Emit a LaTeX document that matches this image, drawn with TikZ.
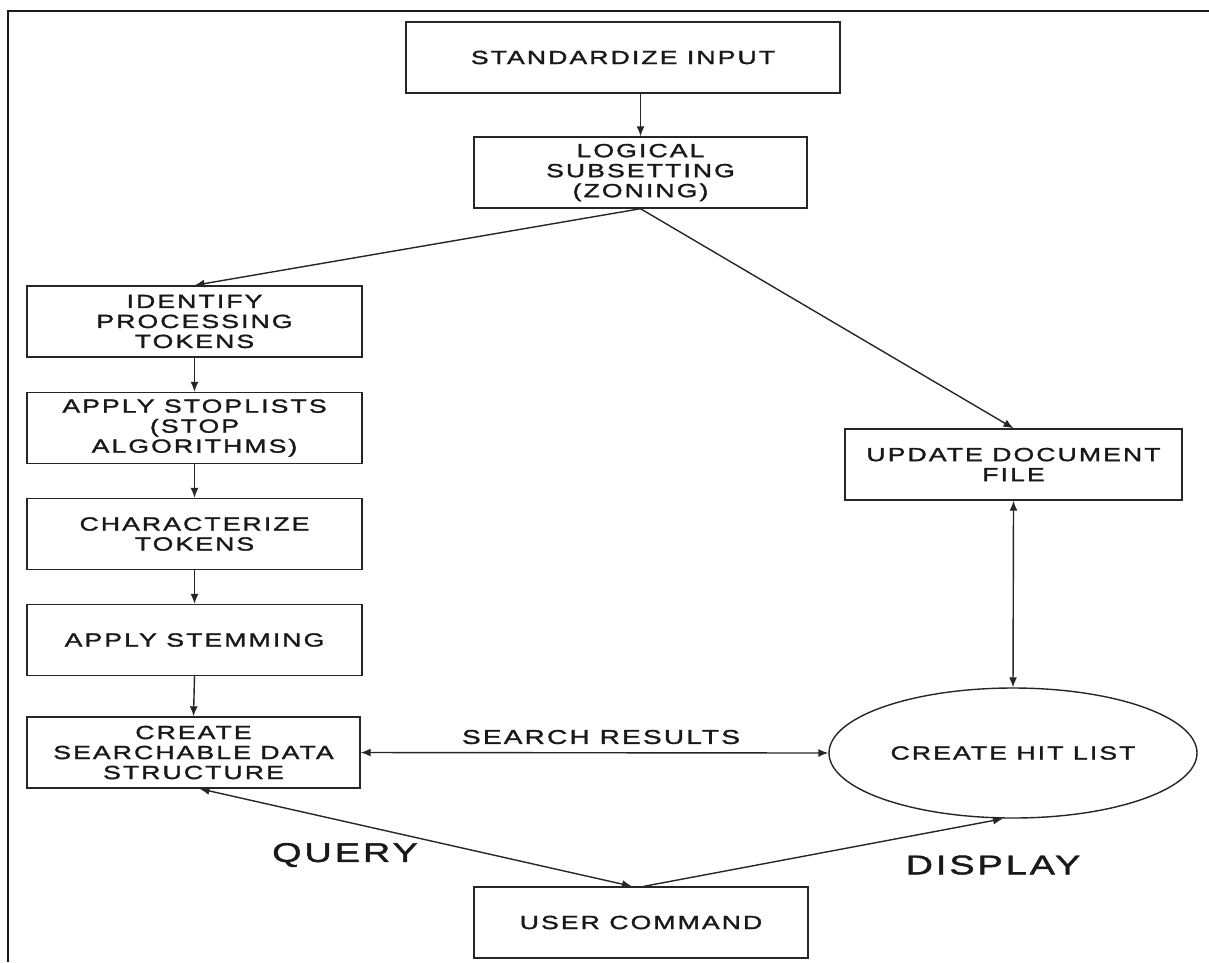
\documentclass[tikz,border=0pt]{standalone}
\usepackage{fontspec}
\usetikzlibrary{arrows.meta,shapes.geometric}
\newfontfamily\diafont[FakeStretch=1.4,LetterSpace=11,FakeBold=1.6]{Liberation Sans}
\begin{document}
\begin{tikzpicture}[x=1pt,y=-1pt,
  box/.style={draw=black!85, line width=1.4pt, rectangle, minimum width=335pt, minimum height=71pt,
    align=center, inner sep=0pt, text=black!90, font=\diafont\fontsize{19}{20}\selectfont},
  arr/.style={line width=1.4pt, draw=black!85, -{Latex[length=10pt,width=8pt]}},
  darr/.style={line width=1.4pt, draw=black!85, {Latex[length=10pt,width=8pt]}-{Latex[length=10pt,width=8pt]}},
  lbl/.style={inner sep=0pt, text=black!90, font=\diafont\fontsize{20}{22}\selectfont},
  biglbl/.style={inner sep=0pt, text=black!90, font=\diafont\fontsize{27}{30}\selectfont}]
\useasboundingbox (0,0) rectangle (1209,962);
\fill[white] (0,0) rectangle (1209,962);
% frame
\draw[line width=2.5pt, black!90] (8,962) -- (8,11) -- (1209,11);
% nodes
\node[box, minimum width=434pt] (std) at (623,57.5) {STANDARDIZE INPUT};
\node[box, minimum width=333pt] (log) at (640.5,172.5) {LOGICAL\\SUBSETTING\\(ZONING)};
\node[box] (idt) at (194.5,321.5) {IDENTIFY\\PROCESSING\\TOKENS};
\node[box] (stp) at (194.5,428) {APPLY STOPLISTS\\(STOP\\ALGORITHMS)};
\node[box] (chr) at (194.5,534) {CHARACTERIZE\\TOKENS};
\node[box] (stm) at (194.5,640) {APPLY STEMMING};
\node[box, minimum width=333pt] (csd) at (193.5,752.5) {CREATE\\SEARCHABLE DATA\\STRUCTURE};
\node[box, minimum width=337pt] (upd) at (1013.5,464.5) {UPDATE DOCUMENT\\FILE};
\node[box, ellipse, minimum width=368pt, minimum height=130pt] (hit) at (1013,753) {CREATE HIT LIST};
\node[box, minimum width=334pt] (usr) at (641,922.5) {USER COMMAND};
% labels
\node[lbl] (sr) at (601,737) {SEARCH RESULTS};
\node[biglbl] (qry) at (345,855) {QUERY};
\node[biglbl] (dsp) at (993,865) {DISPLAY};
% connectors
\draw[arr] (log.north |- std.south) -- (log.north);
\draw[arr] (log.south) -- (idt.north);
\draw[arr] (log.south) -- (upd.north);
\draw[arr] (idt.south) -- (stp.north);
\draw[arr] (stp.south) -- (chr.north);
\draw[arr] (chr.south) -- (stm.north);
\draw[arr] (stm.south) -- (csd.north);
\draw[darr] (csd.east) -- (hit.west);
\draw[darr] (upd.south) -- (hit.north);
\draw[darr] ([xshift=6pt]csd.south) -- ([xshift=-9pt]usr.north);
\draw[arr] ([xshift=3pt]usr.north) -- ([xshift=-10pt]hit.south);
\end{tikzpicture}
\end{document}
